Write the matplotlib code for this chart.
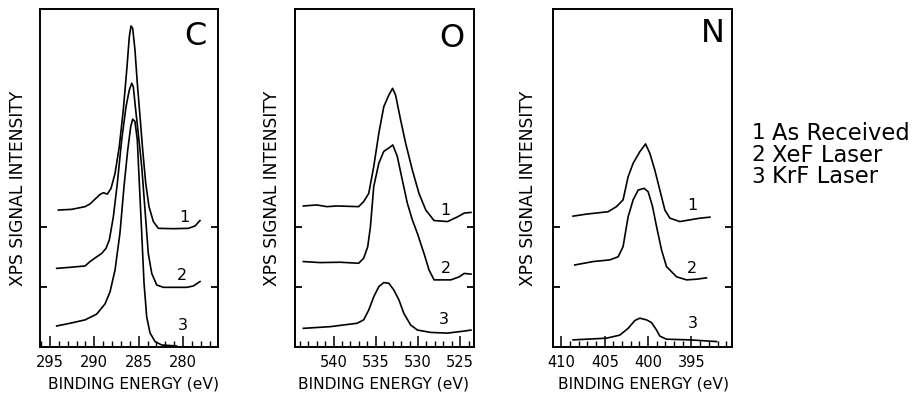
import matplotlib
matplotlib.use("Agg")
import matplotlib.pyplot as plt
from matplotlib.ticker import MultipleLocator, FixedLocator, NullFormatter

plt.rcParams['font.family'] = ['DejaVu Sans']

# ---------------- data ----------------
# Carbon 1s
c1_e = [294.06, 292.56, 291.05, 290.49, 289.93, 289.36, 288.99, 288.54, 288.12, 287.67, 287.19,
        286.74, 286.35, 286.06, 285.87, 285.68, 285.42, 285.16, 284.85, 284.55, 284.21, 283.84,
        283.35, 282.79, 281.10, 279.41, 278.65, 278.09]
c1_i = [40.7, 40.9, 41.7, 42.5, 43.9, 45.3, 45.8, 45.4, 47.1, 51.5, 59.4,
        70.2, 82.0, 91.8, 95.0, 94.3, 87.9, 78.1, 68.2, 58.4, 48.6, 41.7,
        37.3, 35.3, 35.2, 35.3, 36.0, 37.6]
c2_e = [294.25, 292.75, 291.05, 290.49, 289.74, 289.17, 288.69, 288.31, 287.86, 287.41, 286.92,
        286.43, 286.06, 285.79, 285.61, 285.34, 285.05, 284.66, 284.29, 283.92, 283.53, 282.97,
        282.22, 279.59, 278.84, 278.09]
c2_i = [23.5, 23.8, 24.2, 25.5, 26.9, 27.9, 29.4, 31.9, 38.7, 48.6, 61.4,
        71.2, 76.1, 78.1, 77.1, 70.2, 63.3, 53.5, 40.7, 27.9, 22.0, 18.6,
        17.9, 17.9, 18.3, 19.6]
c3_e = [294.25, 292.75, 291.05, 289.74, 288.80, 288.24, 287.67, 287.11, 286.66, 286.24, 285.90,
        285.68, 285.42, 285.16, 284.93, 284.66, 284.40, 284.10, 283.73, 283.16, 282.41, 280.72]
c3_i = [6.5, 7.3, 8.3, 10.0, 13.0, 16.5, 23.0, 34.0, 47.6, 58.4, 65.3,
        67.5, 66.8, 61.4, 48.6, 33.8, 19.1, 9.2, 4.5, 1.9, 0.9, 0.6]

# Oxygen 1s
o1_e = [543.57, 541.98, 540.79, 539.60, 537.02, 536.43, 535.83, 535.24, 534.64, 534.05, 533.45,
        533.01, 532.65, 532.06, 531.46, 530.67, 529.88, 529.08, 528.10, 526.50, 525.31, 524.52, 523.73]
o1_i = [41.9, 42.2, 41.7, 41.9, 41.7, 43.2, 45.6, 53.5, 63.3, 71.2, 74.6,
        76.6, 74.6, 67.3, 60.4, 52.5, 45.6, 40.7, 37.6, 37.3, 38.7, 39.8, 40.0]
o2_e = [543.57, 541.58, 539.20, 537.02, 536.43, 535.95, 535.63, 535.24, 534.64, 534.05, 533.45,
        532.98, 532.45, 531.86, 531.26, 530.67, 530.07, 529.29, 528.69, 528.10, 527.69, 526.11,
        525.12, 524.52, 523.73]
o2_i = [25.5, 25.2, 25.3, 25.0, 26.5, 29.9, 35.8, 47.6, 54.5, 58.0, 59.0,
        59.9, 56.5, 49.6, 42.7, 37.8, 33.8, 27.9, 23.0, 20.1, 20.1, 20.1,
        21.0, 22.0, 21.8]
o3_e = [543.57, 540.39, 537.21, 536.43, 535.83, 535.24, 534.64, 534.05, 533.45, 532.86, 532.26,
        531.67, 530.87, 530.07, 528.49, 526.50, 524.52, 523.73]
o3_i = [5.8, 6.3, 7.3, 8.3, 11.2, 15.1, 18.1, 19.3, 19.1, 17.1, 14.2,
        10.2, 6.8, 5.3, 4.6, 4.4, 5.0, 5.3]

# Nitrogen 1s
n1_e = [408.66, 407.11, 404.62, 403.65, 402.89, 402.31, 401.73, 400.96, 400.30, 399.80, 399.23,
        398.65, 398.07, 397.49, 396.34, 395.19, 394.03, 392.88]
n1_i = [38.9, 39.5, 40.2, 41.7, 43.7, 50.5, 54.5, 57.9, 60.2, 57.4, 52.5,
        46.6, 40.7, 38.3, 37.3, 37.8, 38.3, 38.6]
n2_e = [408.46, 406.35, 404.42, 403.46, 402.89, 402.31, 401.73, 401.15, 400.46, 400.00, 399.49,
        399.03, 398.45, 397.88, 397.49, 396.72, 395.57, 394.42, 393.27]
n2_i = [24.5, 25.5, 26.0, 26.9, 29.9, 38.7, 43.7, 46.6, 47.1, 46.1, 41.7,
        35.8, 28.9, 24.0, 23.0, 21.0, 20.1, 20.3, 20.7]
n3_e = [408.66, 404.80, 403.27, 402.31, 401.54, 400.96, 400.18, 399.61, 399.03, 398.65, 397.88,
        395.19, 392.10]
n3_i = [2.4, 2.9, 3.8, 5.8, 8.1, 8.8, 8.3, 7.5, 5.3, 3.5, 2.6,
        2.4, 1.9]

panel_names = ["C", "O", "N"]
x_limits = [(296.13, 276.06), (544.56, 523.37), (410.97, 390.33)]
x_major = [[295, 290, 285, 280], [540, 535, 530, 525], [410, 405, 400, 395]]
y_marks = [18.1, 35.8]
curve_labels = ["1", "2", "3"]
label_pos = [
    [(279.8, 38.5), (280.15, 21.5), (280.0, 6.5)],
    [(526.7, 40.7), (526.7, 23.5), (526.9, 8.3)],
    [(394.9, 42.0), (394.9, 23.5), (394.9, 7.3)],
]
letter_pos = [(278.65, 91.9), (525.99, 91.2), (392.56, 92.8)]
legend_nums = ["1", "2", "3"]
legend_texts = ["As Received", "XeF Laser", "KrF Laser"]
xlabel = "BINDING ENERGY (eV)"
ylabel = "XPS SIGNAL INTENSITY"

series = [
    [(c1_e, c1_i), (c2_e, c2_i), (c3_e, c3_i)],
    [(o1_e, o1_i), (o2_e, o2_i), (o3_e, o3_i)],
    [(n1_e, n1_i), (n2_e, n2_i), (n3_e, n3_i)],
]

# ---------------- figure ----------------
W, H = 918, 396
fig = plt.figure(figsize=(W / 100, H / 100), dpi=100)

lefts = [40, 295, 553]
widths = [178, 179, 179]
top_px, bot_px = 9, 347
xlab_x = [0.525, 0.494, 0.505]
ylab_x = [-0.124, -0.131, -0.138]

for k in range(3):
    ax = fig.add_axes([lefts[k] / W, 1 - bot_px / H, widths[k] / W, (bot_px - top_px) / H])
    for (e, i) in series[k]:
        ax.plot(e, i, color="black", lw=1.2)
    ax.set_xlim(*x_limits[k])
    ax.set_ylim(0.3, 100)
    ax.xaxis.set_major_locator(FixedLocator(x_major[k]))
    ax.xaxis.set_minor_locator(MultipleLocator(1))
    ax.yaxis.set_major_locator(FixedLocator(y_marks))
    ax.yaxis.set_major_formatter(NullFormatter())
    ax.tick_params(axis="x", which="major", direction="in", length=8, width=1.1,
                   labelsize=10.5, pad=6, top=False)
    ax.tick_params(axis="x", which="minor", direction="in", length=4, width=1.0, top=False)
    ax.tick_params(axis="y", which="major", direction="in", length=5, width=1.3,
                   left=True, right=True)
    for s in ax.spines.values():
        s.set_linewidth(1.4)
    ax.set_xlabel(xlabel, fontsize=11.2, va="center")
    ax.xaxis.set_label_coords(xlab_x[k], -0.11)
    ax.set_ylabel(ylabel, fontsize=12.3, va="center")
    ax.yaxis.set_label_coords(ylab_x[k], 0.47)
    for lab, (lx, ly) in zip(curve_labels, label_pos[k]):
        ax.text(lx, ly, lab, fontsize=11.5, ha="center", va="center")
    ax.text(letter_pos[k][0], letter_pos[k][1], panel_names[k], fontsize=23,
            ha="center", va="center")

row_y = [133.3, 155.0, 176.7]
for num, txt, yy in zip(legend_nums, legend_texts, row_y):
    fig.text(758.5 / W, 1 - yy / H, num, fontsize=15.5, ha="center", va="center")
    fig.text(772 / W, 1 - yy / H, txt, fontsize=16.3, ha="left", va="center")

fig.savefig("out.png", dpi=100)
